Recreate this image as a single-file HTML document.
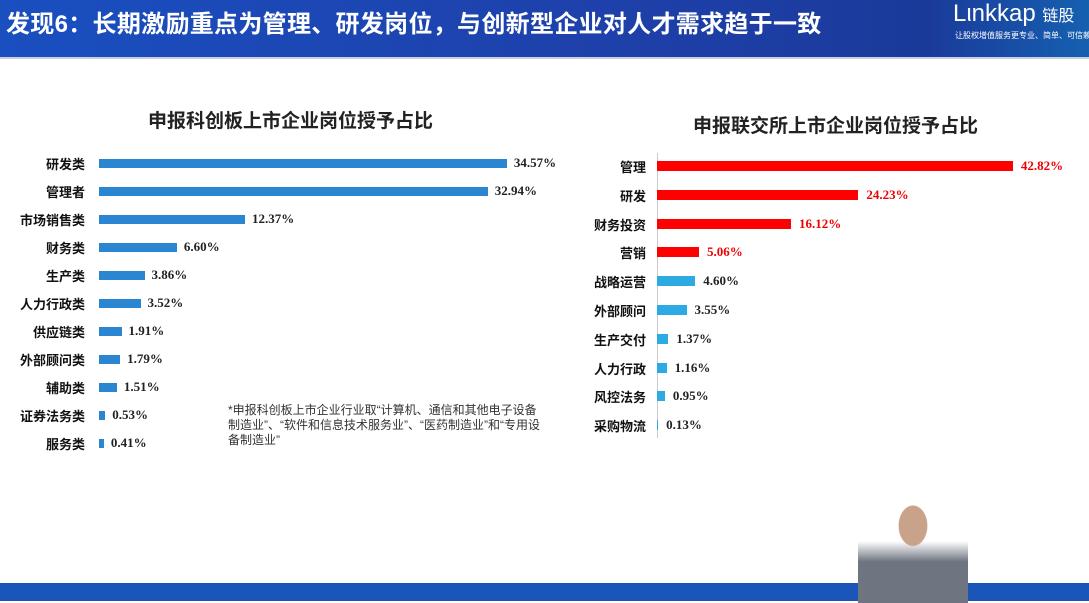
<!DOCTYPE html>
<html><head><meta charset="utf-8"><style>
body{margin:0;width:1089px;height:603px;position:relative;overflow:hidden;background:#fff;font-family:"Liberation Sans","Noto Sans CJK SC",sans-serif}
.hdr{position:absolute;left:0;top:0;width:1089px;height:57px;background:linear-gradient(90deg,#1a4fc0,#1e3fa8 60%,#1a3a9a 85%,#1660b0)}
.t{position:absolute;left:6px;top:4px;color:#fff;font-size:24px;font-weight:bold;white-space:nowrap;letter-spacing:0.3px}
.lab{position:absolute;font-size:13px;color:#111;text-align:right;width:90px;white-space:nowrap;font-weight:bold}
.val{position:absolute;font-family:"Liberation Serif",serif;font-weight:bold;font-size:13px;color:#222}
.bar{position:absolute}
.ct{position:absolute;font-size:19px;font-weight:bold;color:#222;white-space:nowrap}
</style></head><body>
<div class="hdr"></div>
<div class="t">发现6：长期激励重点为管理、研发岗位，与创新型企业对人才需求趋于一致</div>
<div style="position:absolute;left:953px;top:0;color:#fff;font-size:24px;white-space:nowrap">Lιnkkap <span style="font-size:16px">链股</span></div>
<div style="position:absolute;left:955px;top:30px;color:#fff;font-size:8px;white-space:nowrap">让股权增值服务更专业、简单、可信赖</div>
<div style="position:absolute;left:0;top:57px;width:1089px;height:2px;background:#c8d0e0"></div>
<div class="ct" style="left:148px;top:106px">申报科创板上市企业岗位授予占比</div>
<div class="ct" style="left:693px;top:111px">申报联交所上市企业岗位授予占比</div>
<div style="position:absolute;left:657px;top:153px;width:1px;height:285px;background:#ccc"></div>
<div id="c"></div>
<div style="position:absolute;left:228px;top:403px;font-size:12px;color:#333;line-height:15px;width:315px">*申报科创板上市企业行业取“计算机、通信和其他电子设备制造业”、“软件和信息技术服务业”、“医药制造业”和“专用设备制造业”</div>
<div style="position:absolute;left:0;top:583px;width:1089px;height:18px;background:#1a56b8"></div>
<div style="position:absolute;left:858px;top:500px;width:110px;height:103px;background:radial-gradient(ellipse at 50% 25%,#c9a28a 0 18%,transparent 19%),linear-gradient(#fff 0 40%,#6e7480 60%);border-radius:40px 40px 0 0"></div>
<script>
var L=[["研发类",34.57],["管理者",32.94],["市场销售类",12.37],["财务类",6.60],["生产类",3.86],["人力行政类",3.52],["供应链类",1.91],["外部顾问类",1.79],["辅助类",1.51],["证券法务类",0.53],["服务类",0.41]];
var R=[["管理",42.82],["研发",24.23],["财务投资",16.12],["营销",5.06],["战略运营",4.60],["外部顾问",3.55],["生产交付",1.37],["人力行政",1.16],["风控法务",0.95],["采购物流",0.13]];
var h="";
L.forEach(function(d,i){var y=163+i*28,w=d[1]*11.8;
h+='<div class="lab" style="left:-5px;top:'+(y-9)+'px">'+d[0]+'</div><div class="bar" style="left:99px;top:'+(y-4)+'px;width:'+w+'px;height:9px;background:#2a86d0"></div><div class="val" style="left:'+(99+w+7)+'px;top:'+(y-8)+'px">'+d[1].toFixed(2)+'%</div>';});
R.forEach(function(d,i){var y=166+i*28.8,w=d[1]*8.31,red=i<4;
h+='<div class="lab" style="left:556px;top:'+(y-9)+'px">'+d[0]+'</div><div class="bar" style="left:657px;top:'+(y-5)+'px;width:'+w+'px;height:10px;background:'+(red?'#f00':'#2eaae2')+'"></div><div class="val" style="left:'+(657+w+8)+'px;top:'+(y-8)+'px;color:'+(red?'#e00':'#222')+'">'+d[1].toFixed(2)+'%</div>';});
document.getElementById("c").innerHTML=h;
</script>
</body></html>
